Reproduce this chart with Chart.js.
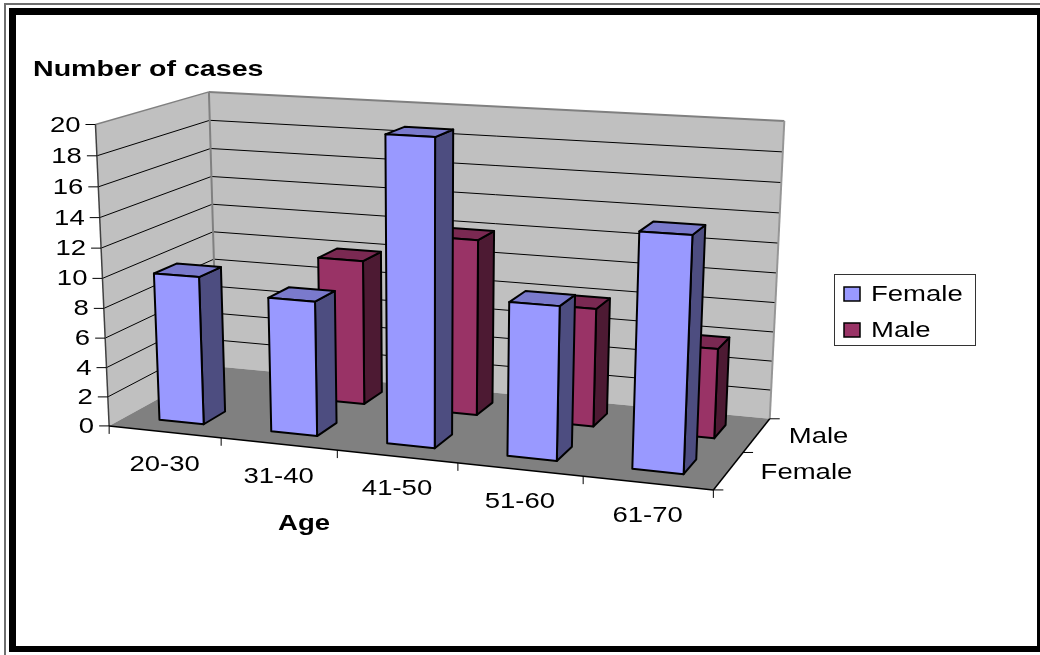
<!DOCTYPE html>
<html>
<head>
<meta charset="utf-8">
<style>html,body{margin:0;padding:0;background:#fff}canvas{display:block}</style>
<script src="https://cdn.jsdelivr.net/npm/chart.js@4/dist/chart.umd.min.js"></script>
</head>
<body>
<canvas id="c" width="1040" height="655"></canvas>
<script>
const categories = ['20-30','31-40','41-50','51-60','61-70'];
const seriesNames = ['Female','Male'];
const femaleValues = [10, 9, 20, 10, 15];
const maleValues = [null, 10, 12, 8, 6];
const yTitle = 'Number of cases';
const xTitle = 'Age';
const palette = {
  Female: {front:'#9999FF', side:'#4D4D80', top:'#7A7ACC'},
  Male:   {front:'#993366', side:'#4D1A33', top:'#7A2952'}
};

// Camera fit: plot-cube coordinates (u along categories, h up, w into depth) to page pixels.
const anchors = [
  [0,0,0,109,426.5],[0,1,0,96,125],[0,1,1,208,93],[0,0,1,218,367],
  [1,1,1,785,122],[1,0,1,769,419.5],[1,0,0,713,489.5],
  [.2,0,0,222,438.5],[.4,0,0,336,450.5],[.6,0,0,458,462.5],[.8,0,0,584,475.5],
  [1,0,.5,743,453.5],[0,.5,0,102,277],[0,.5,1,213,230],[1,.5,1,777,271]
];
function fitCamera(pts){
  const n=11, A=Array.from({length:n},()=>new Array(n+1).fill(0));
  const add=(r,b)=>{for(let i=0;i<n;i++){for(let j=0;j<n;j++)A[i][j]+=r[i]*r[j];A[i][n]+=r[i]*b;}};
  pts.forEach(([u,h,w,x,y])=>{
    const X=x/1000,Y=y/1000;
    add([u,h,w,1,0,0,0,0,-X*u,-X*h,-X*w],X);
    add([0,0,0,0,u,h,w,1,-Y*u,-Y*h,-Y*w],Y);
  });
  for(let i=0;i<n;i++){
    let m=i;for(let k=i+1;k<n;k++)if(Math.abs(A[k][i])>Math.abs(A[m][i]))m=k;
    [A[i],A[m]]=[A[m],A[i]];
    for(let k=0;k<n;k++){if(k===i)continue;const f=A[k][i]/A[i][i];for(let j=i;j<=n;j++)A[k][j]-=f*A[i][j];}
  }
  return A.map((r,i)=>r[n]/r[i]);
}
const P=fitCamera(anchors);
function project(u,h,w){
  const d=P[8]*u+P[9]*h+P[10]*w+1;
  return [1000*(P[0]*u+P[1]*h+P[2]*w+P[3])/d, 1000*(P[4]*u+P[5]*h+P[6]*w+P[7])/d];
}

function poly(ctx,pts,fill,stroke,lw){
  ctx.beginPath();
  pts.forEach((p,i)=>i?ctx.lineTo(p[0],p[1]):ctx.moveTo(p[0],p[1]));
  ctx.closePath();
  if(fill){ctx.fillStyle=fill;ctx.fill();}
  if(stroke){ctx.strokeStyle=stroke;ctx.lineWidth=lw;ctx.lineJoin='round';ctx.stroke();}
}
function line(ctx,a,b,color,lw){
  ctx.beginPath();ctx.moveTo(a[0],a[1]);ctx.lineTo(b[0],b[1]);
  ctx.strokeStyle=color;ctx.lineWidth=lw;ctx.stroke();
}
const STRETCH=1.25;
function text(ctx,str,x,y,align,bold,stretch){
  ctx.save();
  ctx.translate(x,y+1);ctx.scale(stretch||STRETCH,1);
  ctx.font=(bold?'bold ':'')+'22px "Liberation Sans"';
  ctx.fillStyle='#000';ctx.textAlign=align;ctx.textBaseline='middle';
  ctx.fillText(str,0,0);
  ctx.restore();
}

const scene3d={
  id:'scene3d',
  beforeDatasetsDraw(chart){
    const ctx=chart.ctx,a=chart.chartArea,xS=chart.scales.x,yS=chart.scales.y,dS=chart.scales.d;
    const U=px=>(px-a.left)/a.width, H=px=>(a.bottom-px)/a.height, W=px=>(px-a.top)/a.height;
    // frame
    ctx.save();
    ctx.fillStyle='#fff';ctx.fillRect(0,0,1040,655);
    ctx.fillStyle='#6e6e6e';ctx.fillRect(4,3,1036,2);ctx.fillRect(4,3,2,652);
    ctx.fillStyle='#000';
    ctx.fillRect(9,8,1031,7);ctx.fillRect(9,8,7,644);ctx.fillRect(9,646,1031,6);ctx.fillRect(1037,8,3,644);
    // walls and floor
    poly(ctx,[project(0,0,0),project(0,1,0),project(0,1,1),project(0,0,1)],'#C0C0C0');
    poly(ctx,[project(0,0,1),project(0,1,1),project(1,1,1),project(1,0,1)],'#C0C0C0');
    yS.ticks.forEach(t=>{
      const h=H(yS.getPixelForValue(t.value));
      if(h>0.001&&h<0.999){
        line(ctx,project(0,h,0),project(0,h,1),'#000',1);
        line(ctx,project(0,h,1),project(1,h,1),'#000',1);
      }
    });
    poly(ctx,[project(0,0,0),project(1,0,0),project(1,0,1),project(0,0,1)],'#808080');
    line(ctx,project(0,1,0),project(0,1,1),'#808080',1.5);
    line(ctx,project(0,1,1),project(1,1,1),'#808080',2);
    line(ctx,project(1,1,1),project(1,0,1),'#969696',2);
    line(ctx,project(0,1,1),project(0,0,1),'#808080',2);
    line(ctx,project(0,0,0),project(0,1,0),'#404040',1.5);
    line(ctx,project(0,0,0),project(1,0,0),'#000',1.5);
    line(ctx,project(1,0,0),project(1,0,1),'#000',1.5);
    // value axis ticks and labels
    yS.ticks.forEach(t=>{
      const p=project(0,H(yS.getPixelForValue(t.value)),0);
      line(ctx,[p[0]-10,p[1]],p,'#000',1);
      text(ctx,String(t.value),p[0]-15,p[1],'right');
    });
    // category ticks and labels
    const nCat=categories.length;
    for(let i=0;i<=nCat;i++){
      const p=project(i/nCat,0,0);
      line(ctx,p,[p[0],p[1]+8],'#000',1);
    }
    categories.forEach((c,i)=>{
      const p=project(U(xS.getPixelForValue(i)),0,0);
      text(ctx,c,p[0],p[1]+32,'center');
    });
    // depth ticks and labels
    [0,.5,1].forEach(w=>{const p=project(1,0,w);line(ctx,p,[p[0]+10,p[1]],'#000',1);});
    seriesNames.forEach((s,i)=>{
      const p=project(1,0,W(dS.getPixelForValue(i)));
      text(ctx,s,p[0]+32,p[1]+1,'left');
    });
    // titles
    text(ctx,yTitle,33,69,'left',true,1.3);
    text(ctx,xTitle,304,523,'center',true,1.25);
    // legend
    ctx.strokeStyle='#333';ctx.lineWidth=1;ctx.strokeRect(834.5,274.5,141,71);
    seriesNames.forEach((s,i)=>{
      const y=294+i*36;
      ctx.fillStyle=palette[s].front;ctx.fillRect(844,y-7,16,14);
      ctx.strokeStyle='#000';ctx.lineWidth=1.5;ctx.strokeRect(844,y-7,16,14);
      text(ctx,s,871,y,'left');
    });
    ctx.restore();
  },
  beforeDatasetDraw(chart,args){
    // replaces the flat bar draw with a projected box; back row is drawn first via dataset order
    const ctx=chart.ctx,a=chart.chartArea,dS=chart.scales.d;
    const idx=args.index,name=seriesNames[idx],col=palette[name];
    const wc=(dS.getPixelForValue(idx)-a.top)/a.height,wh=0.1;
    const w0=wc-wh,w1=wc+wh;
    const values=chart.data.datasets[idx].data;
    ctx.save();
    args.meta.data.forEach((el,i)=>{
      if(values[i]==null)return;
      const p=el.getProps(['x','y','base','width'],true);
      const u0=(p.x-p.width/2-a.left)/a.width,u1=(p.x+p.width/2-a.left)/a.width;
      const h1=(a.bottom-p.y)/a.height,h0=(a.bottom-p.base)/a.height;
      poly(ctx,[project(u1,h0,w0),project(u1,h1,w0),project(u1,h1,w1),project(u1,h0,w1)],col.side,'#000',2);
      poly(ctx,[project(u0,h1,w0),project(u0,h1,w1),project(u1,h1,w1),project(u1,h1,w0)],col.top,'#000',2);
      poly(ctx,[project(u0,h0,w0),project(u0,h1,w0),project(u1,h1,w0),project(u1,h0,w0)],col.front,'#000',2);
    });
    ctx.restore();
    return false;
  }
};

new Chart(document.getElementById('c'),{
  type:'bar',
  data:{labels:categories,datasets:[
    {label:seriesNames[0],data:femaleValues,backgroundColor:palette.Female.front,order:0},
    {label:seriesNames[1],data:maleValues,backgroundColor:palette.Male.front,order:1}
  ]},
  options:{
    responsive:false,animation:false,
    layout:{padding:{left:100,right:250,top:100,bottom:150}},
    datasets:{bar:{grouped:false,categoryPercentage:1,barPercentage:0.4}},
    plugins:{legend:{display:false},title:{display:false},tooltip:{enabled:false}},
    scales:{
      x:{type:'category',display:false,offset:true},
      y:{type:'linear',display:false,min:0,max:20,ticks:{stepSize:2}},
      d:{type:'category',axis:'y',display:false,labels:seriesNames,offset:true}
    }
  },
  plugins:[scene3d]
});
</script>
</body>
</html>
